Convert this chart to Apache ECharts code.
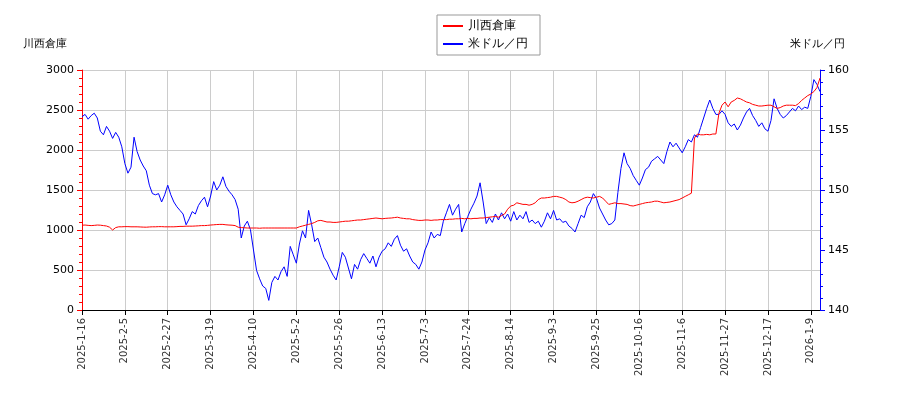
<!DOCTYPE html>
<html>
<head>
<meta charset="utf-8">
<script src="https://cdn.jsdelivr.net/npm/echarts@6/dist/echarts.min.js"></script>
<style>html,body{margin:0;padding:0;background:#fff}#chart{width:900px;height:400px}</style>
</head>
<body>
<div id="chart"></div>
<script>
'use strict';
// 取引所休業日
const holidays = ['2025-02-11', '2025-02-24', '2025-03-20', '2025-04-29', '2025-05-05', '2025-05-06',
    '2025-07-21', '2025-08-11', '2025-09-15', '2025-09-23', '2025-10-13', '2025-11-03', '2025-11-24',
    '2025-12-31', '2026-01-01', '2026-01-02', '2026-01-12'];
// 目盛りラベル (14取引日ごと)
const tickLabels = ['2025-1-16', '2025-2-5', '2025-2-27', '2025-3-19', '2025-4-10', '2025-5-2', '2025-5-26',
    '2025-6-13', '2025-7-3', '2025-7-24', '2025-8-14', '2025-9-3', '2025-9-25', '2025-10-16', '2025-11-6',
    '2025-11-27', '2025-12-17', '2026-1-9'];

const kawanishi = [
    1060, 1062, 1058, 1055, 1058, 1062, 1060, 1055, 1050,
    1035, 1000, 1030,
    1040, 1040, 1042, 1042, 1040, 1040, 1040, 1038, 1036, 1035, 1038, 1040, 1040, 1042, 1042, 1040, 1040, 1040, 1040,
    1042, 1045, 1045, 1048, 1048, 1048, 1050, 1052, 1055, 1055, 1058, 1062, 1065, 1068, 1070, 1070, 1065, 1062, 1060, 1055,
    1035, 1030, 1028, 1025, 1025, 1025, 1025, 1022, 1025, 1025, 1025, 1025, 1025, 1025, 1025, 1025, 1025, 1025, 1025, 1025,
    1040, 1050, 1060, 1070, 1080, 1095, 1115, 1120, 1110, 1100,
    1100, 1095, 1095, 1100, 1105, 1110, 1110, 1115, 1120, 1125, 1125, 1130, 1135, 1140, 1145, 1150, 1145, 1140, 1145, 1148,
    1150, 1155, 1160, 1150, 1145, 1140, 1140, 1130, 1125, 1120, 1120, 1125, 1125, 1120, 1125, 1125, 1130, 1130, 1130, 1135,
    1135, 1140, 1140, 1145, 1140,
    1145, 1140, 1145, 1145, 1150, 1150, 1155, 1160, 1165, 1170, 1160, 1180, 1200, 1260, 1300,
    1310, 1340, 1330, 1320, 1320, 1310, 1320, 1340, 1380, 1400,
    1400, 1405, 1410, 1420, 1420, 1410, 1400, 1380, 1350, 1340, 1345, 1360, 1380, 1400, 1410,
    1405, 1400, 1410, 1420, 1400, 1360, 1320, 1330, 1340, 1330, 1330,
    1325, 1320, 1305, 1300, 1310, 1320, 1330, 1340, 1345, 1350, 1360, 1360, 1350, 1340, 1345, 1350, 1360,
    1370, 1380, 1400, 1420, 1440, 1460, 2150, 2200, 2190, 2190,
    2195, 2190, 2200, 2200, 2460, 2560, 2600,
    2540, 2600, 2620, 2650, 2640, 2620, 2600, 2590, 2570, 2560, 2550, 2550, 2555, 2560, 2560,
    2540, 2520, 2530, 2550, 2560, 2560, 2560, 2555, 2580, 2620, 2650, 2680, 2700, 2730, 2780, 2900
];

const usdjpy = [
    156.1, 156.3, 155.9, 156.2, 156.4, 156.0, 154.9, 154.6, 155.3, 154.9,
    154.3, 154.8, 154.4, 153.6, 152.2, 151.4, 151.9, 154.4, 153.2, 152.5,
    152.0, 151.6, 150.4, 149.7, 149.6, 149.7, 149.0, 149.6, 150.4, 149.6,
    149.0, 148.6, 148.3, 148.0, 147.1, 147.6, 148.2, 148.0, 148.7, 149.1,
    149.4, 148.6, 149.5, 150.7, 150.0, 150.4, 151.1, 150.3, 149.9, 149.6,
    149.2, 148.4, 146.0, 147.0, 147.4, 146.7, 145.0, 143.3, 142.6, 142.0,
    141.8, 140.8, 142.3, 142.8, 142.5, 143.2, 143.6, 142.8, 145.3, 144.6,
    143.9, 145.5, 146.6, 146.0, 148.3, 147.1, 145.7, 146.0, 145.2, 144.4,
    144.0, 143.4, 142.9, 142.5, 143.6, 144.8, 144.4, 143.5, 142.6, 143.8,
    143.4, 144.2, 144.7, 144.3, 143.9, 144.5, 143.6, 144.4, 144.9, 145.1,
    145.6, 145.3, 145.9, 146.2, 145.4, 144.9, 145.1, 144.5, 144.0, 143.8,
    143.4, 144.0, 145.0, 145.6, 146.5, 146.0, 146.3, 146.2, 147.4, 148.1,
    148.8, 147.9, 148.4, 148.8, 146.5, 147.2, 147.8, 148.4, 148.9, 149.5,
    150.6, 149.0, 147.2, 147.7, 147.3, 148.0, 147.5, 148.1, 147.6, 148.0,
    147.4, 148.2, 147.5, 147.9, 147.6, 148.2, 147.3, 147.5, 147.2, 147.4,
    146.9, 147.4, 148.1, 147.6, 148.3, 147.5, 147.6, 147.3, 147.4, 147.0,
    146.8, 146.5, 147.2, 147.9, 147.7, 148.6, 149.0, 149.7, 149.3, 148.5,
    148.0, 147.5, 147.1, 147.2, 147.5, 149.8, 151.8, 153.1, 152.2, 151.8,
    151.2, 150.8, 150.4, 151.0, 151.7, 151.9, 152.4, 152.6, 152.8, 152.5,
    152.2, 153.2, 154.0, 153.6, 153.9, 153.5, 153.1, 153.6, 154.2, 154.0,
    154.6, 154.4, 155.2, 156.0, 156.8, 157.5, 156.8, 156.3, 156.3, 156.6,
    156.3, 155.6, 155.3, 155.5, 155.0, 155.4, 156.0, 156.5, 156.8, 156.2,
    155.8, 155.3, 155.6, 155.1, 154.9, 155.8, 157.6, 156.8, 156.3, 156.0,
    156.2, 156.5, 156.8, 156.6, 157.0, 156.7, 156.9, 156.8, 157.8, 159.2,
    158.8, 158.2
];

function tradingDays(start, count) {
    const out = [];
    const d = new Date(start + 'T00:00:00Z');
    while (out.length < count) {
        const iso = d.toISOString().slice(0, 10);
        const wd = d.getUTCDay();
        if (wd !== 0 && wd !== 6 && holidays.indexOf(iso) < 0) {
            out.push(iso);
        }
        d.setUTCDate(d.getUTCDate() + 1);
    }
    return out;
}
const dates = tradingDays('2025-01-16', kawanishi.length);

const chart = echarts.init(document.getElementById('chart'));
chart.setOption({
    animation: false,
    textStyle: { fontFamily: 'DejaVu Sans' },
    legend: {
        top: 15,
        left: 437,
        orient: 'vertical',
        itemWidth: 20,
        itemHeight: 2,
        itemGap: 6,
        padding: [5, 12, 5, 6],
        borderColor: '#999',
        borderWidth: 1,
        icon: 'rect',
        textStyle: { fontSize: 12, color: '#000' },
        data: ['川西倉庫', '米ドル／円']
    },
    grid: { left: 82, right: 80, top: 70, bottom: 90 },
    xAxis: {
        type: 'category',
        data: dates,
        boundaryGap: false,
        axisLine: { lineStyle: { color: '#000' } },
        axisTick: { interval: 13, lineStyle: { color: '#000' } },
        axisLabel: {
            interval: 13, rotate: 90, fontSize: 10, color: '#333',
            formatter: (v, i) => tickLabels[Math.round(i / 14)] || ''
        },
        splitLine: { show: true, interval: 13, lineStyle: { color: '#ccc' } }
    },
    yAxis: [
        {
            type: 'value', min: 0, max: 3000, interval: 500,
            name: '川西倉庫', nameGap: 20, nameTextStyle: { align: 'right', fontSize: 11, color: '#000', padding: [0, 15, 0, 0] },
            axisLine: { show: true, lineStyle: { color: 'red' } },
            axisTick: { show: true },
            minorTick: { show: true, splitNumber: 5 },
            axisLabel: { fontSize: 11, color: '#000', formatter: (v) => String(v) },
            splitLine: { lineStyle: { color: '#ccc' } }
        },
        {
            type: 'value', min: 140, max: 160, interval: 5,
            name: '米ドル／円', nameGap: 20, nameTextStyle: { align: 'left', fontSize: 11, color: '#000', padding: [0, 0, 0, -30] },
            axisLine: { show: true, lineStyle: { color: 'blue' } },
            axisTick: { show: true },
            minorTick: { show: true, splitNumber: 5 },
            axisLabel: { fontSize: 11, color: '#000' },
            splitLine: { show: false }
        }
    ],
    series: [
        {
            name: '米ドル／円', type: 'line', yAxisIndex: 1, data: usdjpy,
            symbol: 'none', lineStyle: { color: 'blue', width: 1 }, itemStyle: { color: 'blue' }
        },
        {
            name: '川西倉庫', type: 'line', yAxisIndex: 0, data: kawanishi,
            symbol: 'none', lineStyle: { color: 'red', width: 1 }, itemStyle: { color: 'red' }
        }
    ]
});
</script>
</body>
</html>
